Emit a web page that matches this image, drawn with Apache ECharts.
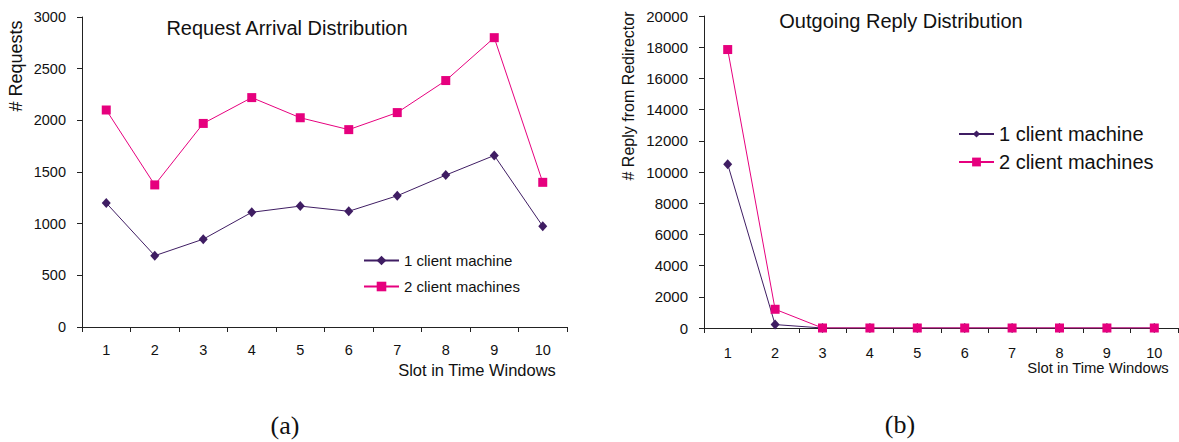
<!DOCTYPE html>
<html>
<head>
<meta charset="utf-8">
<style>
  html, body { margin: 0; padding: 0; background: #ffffff; }
  #chart { width: 1179px; height: 442px; }
</style>
<script src="https://cdn.jsdelivr.net/npm/echarts@6/dist/echarts.min.js"></script>
</head>
<body>
<div id="chart"></div>
<script>
// Time-window slots shared by both panels
const slots = ['1', '2', '3', '4', '5', '6', '7', '8', '9', '10'];

// (a) requests arriving per slot
const arrivalOneClient = [1200, 690, 850, 1110, 1170, 1120, 1270, 1470, 1660, 975];
const arrivalTwoClients = [2100, 1375, 1970, 2220, 2025, 1910, 2075, 2385, 2800, 1400];

// (b) replies sent by the redirector per slot
const replyOneClient = [10500, 220, 0, 0, 0, 0, 0, 0, 0, 0];
const replyTwoClients = [17850, 1200, 0, 0, 0, 0, 0, 0, 0, 0];

const seriesNames = ['1 client machine', '2 client machines'];

const PURPLE = '#3f1d63';
const MAGENTA = '#e6007e';
const SANS = 'Liberation Sans, Arial, sans-serif';
const AXIS_COLOR = '#222';

function xAxisFor(gridIndex, labelMargin) {
  return {
    type: 'category',
    gridIndex: gridIndex,
    data: slots,
    boundaryGap: true,
    axisLine: { lineStyle: { color: AXIS_COLOR, width: 1 } },
    axisTick: { show: true, length: 5, inside: false, alignWithLabel: false,
                lineStyle: { color: AXIS_COLOR } },
    axisLabel: { color: '#111', fontFamily: SANS, fontSize: 14.5, margin: labelMargin },
    splitLine: { show: false }
  };
}

function yAxisFor(gridIndex, max, interval, fontSize) {
  return {
    type: 'value',
    gridIndex: gridIndex,
    min: 0,
    max: max,
    interval: interval,
    axisLine: { show: true, lineStyle: { color: AXIS_COLOR, width: 1 } },
    axisTick: { show: true, length: 5, lineStyle: { color: AXIS_COLOR } },
    axisLabel: { color: '#111', fontFamily: SANS, fontSize: fontSize, margin: 16,
                 formatter: function (v) { return String(v); } },
    splitLine: { show: false }
  };
}

function lineSeries(name, data, gridIndex, color, symbol, size) {
  return {
    name: name,
    type: 'line',
    xAxisIndex: gridIndex,
    yAxisIndex: gridIndex,
    data: data,
    symbol: symbol,
    symbolSize: size,
    showSymbol: true,
    lineStyle: { color: color, width: 1 },
    itemStyle: { color: color },
    animation: false
  };
}

function legendRow(name, left, centerY, fontSize, iconH) {
  return {
    data: [name],
    left: left,
    top: centerY - Math.round(fontSize / 2),
    padding: 0,
    itemWidth: 35,
    itemHeight: iconH,
    selectedMode: false,
    textStyle: { color: '#111', fontFamily: SANS, fontSize: fontSize, lineHeight: fontSize }
  };
}

function label(text, x, y, size, opts) {
  return Object.assign({
    type: 'text',
    x: x,
    y: y,
    style: {
      text: text,
      fill: '#111',
      font: size + 'px ' + SANS,
      textAlign: 'center',
      textVerticalAlign: 'middle'
    }
  }, opts || {});
}

const chart = echarts.init(document.getElementById('chart'), null, { renderer: 'svg' });

chart.setOption({
  backgroundColor: '#ffffff',
  animation: false,
  grid: [
    { left: 82, top: 17, width: 485, height: 310 },
    { left: 704, top: 16, width: 474, height: 312 }
  ],
  xAxis: [xAxisFor(0, 15), xAxisFor(1, 17)],
  yAxis: [yAxisFor(0, 3000, 500, 14.5), yAxisFor(1, 20000, 2000, 15)],
  legend: [
    legendRow(seriesNames[0], 363, 261, 15, 12),
    legendRow(seriesNames[1], 363, 287, 15, 12),
    legendRow(seriesNames[0], 958, 134, 20, 9),
    legendRow(seriesNames[1], 958, 162, 20, 11)
  ],
  series: [
    lineSeries(seriesNames[0], arrivalOneClient, 0, PURPLE, 'diamond', [9, 10]),
    lineSeries(seriesNames[1], arrivalTwoClients, 0, MAGENTA, 'rect', 9),
    lineSeries(seriesNames[0], replyOneClient, 1, PURPLE, 'diamond', [9, 10]),
    lineSeries(seriesNames[1], replyTwoClients, 1, MAGENTA, 'rect', 9)
  ],
  graphic: [
    label('Request Arrival Distribution', 287, 28, 20),
    label('Outgoing Reply Distribution', 901, 21, 20),
    label('# Requests', 16, 66, 18, { rotation: Math.PI / 2 }),
    label('# Reply from Redirector', 628, 96, 16, { rotation: Math.PI / 2 }),
    label('Slot in Time Windows', 477, 370, 16.5),
    label('Slot in Time Windows', 1098, 368, 14.8),
    {
      type: 'text', x: 285, y: 425,
      style: { text: '(a)', fill: '#111', font: '26px Liberation Serif, Times New Roman, serif',
               textAlign: 'center', textVerticalAlign: 'middle' }
    },
    {
      type: 'text', x: 900, y: 424,
      style: { text: '(b)', fill: '#111', font: '26px Liberation Serif, Times New Roman, serif',
               textAlign: 'center', textVerticalAlign: 'middle' }
    }
  ]
});
</script>
</body>
</html>
